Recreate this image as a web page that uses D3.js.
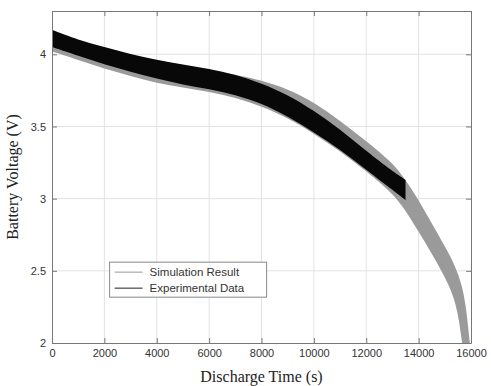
<!DOCTYPE html>
<html>
<head>
<meta charset="utf-8">
<script src="https://cdn.jsdelivr.net/npm/d3@7"></script>
<style>
  body { margin: 0; background: #fff; }
  svg { display: block; }
</style>
</head>
<body>
<svg id="chart" width="491" height="386"></svg>
<script>
// Discharge time samples (s)
const expTime = [0, 1000, 2000, 3000, 4000, 5000, 6000, 7000, 8000, 9000, 10000, 11000, 12000, 13000, 13500];
// Experimental data band (noisy measurement, upper / lower envelope, V)
const expUpper = [4.17, 4.10, 4.05, 4.00, 3.96, 3.93, 3.90, 3.86, 3.80, 3.72, 3.61, 3.48, 3.33, 3.19, 3.13];
const expLower = [4.05, 3.99, 3.93, 3.88, 3.83, 3.79, 3.76, 3.72, 3.66, 3.57, 3.46, 3.34, 3.20, 3.06, 2.99];

// Simulation result band
const simTime  = [0, 1000, 2000, 3000, 4000, 5000, 6000, 7000, 8000, 9000, 10000, 11000, 12000, 13000, 13500, 14000, 14500, 15000, 15300, 15500, 15650, 15800, 15960, 16050];
const simUpper = [4.13, 4.07, 4.02, 3.97, 3.93, 3.91, 3.89, 3.86, 3.82, 3.76, 3.67, 3.54, 3.40, 3.25, 3.13, 2.99, 2.83, 2.67, 2.57, 2.48, 2.40, 2.27, 2.00, 1.80];
const simLower = [4.02, 3.96, 3.90, 3.85, 3.80, 3.77, 3.74, 3.70, 3.64, 3.56, 3.45, 3.33, 3.19, 3.04, 2.92, 2.77, 2.62, 2.46, 2.34, 2.21, 2.02, 1.80, 1.60, 1.50];

const xTicks = [0, 2000, 4000, 6000, 8000, 10000, 12000, 14000, 16000];
const yTicks = [2, 2.5, 3, 3.5, 4];
const legendLabels = ['Simulation Result', 'Experimental Data'];

const svg = d3.select('#chart');
const margin = { top: 11, right: 20, bottom: 43, left: 52 };
const width = 491 - margin.left - margin.right;
const height = 386 - margin.top - margin.bottom;

const g = svg.append('g')
  .attr('transform', `translate(${margin.left},${margin.top})`);

const x = d3.scaleLinear().domain([0, 16000]).range([0, width]);
const y = d3.scaleLinear().domain([2, 4.3]).range([height, 0]);

// grid lines
g.append('g')
  .selectAll('line')
  .data(xTicks.slice(1, -1))
  .join('line')
  .attr('x1', d => x(d)).attr('x2', d => x(d))
  .attr('y1', 0).attr('y2', height)
  .attr('stroke', '#e2e2e2')
  .attr('stroke-width', 1);

g.append('g')
  .selectAll('line')
  .data(yTicks.slice(1))
  .join('line')
  .attr('x1', 0).attr('x2', width)
  .attr('y1', d => y(d)).attr('y2', d => y(d))
  .attr('stroke', '#e2e2e2')
  .attr('stroke-width', 1);

g.append('clipPath').attr('id', 'plot-clip')
  .append('rect').attr('width', width).attr('height', height);

const area = d3.area()
  .x(d => x(d[0]))
  .y0(d => y(d[2]))
  .y1(d => y(d[1]))
  .curve(d3.curveBasis);

// simulation band (gray)
g.append('path')
  .datum(simTime.map((t, i) => [t, simUpper[i], simLower[i]]))
  .attr('clip-path', 'url(#plot-clip)')
  .attr('fill', '#9a9a9a')
  .attr('d', area);

// experimental band (black)
g.append('path')
  .datum(expTime.map((t, i) => [t, expUpper[i], expLower[i]]))
  .attr('clip-path', 'url(#plot-clip)')
  .attr('fill', '#080808')
  .attr('d', area);

// axes with inward ticks (all four sides)
const styleAxis = sel => {
  sel.style('font-family', '"Liberation Sans", Arial, sans-serif')
    .style('font-size', '11px');
  sel.select('.domain').attr('stroke', '#777');
  sel.selectAll('.tick line').attr('stroke', '#777');
  sel.selectAll('.tick text').attr('fill', '#333');
};

g.append('g')
  .attr('transform', `translate(0,${height})`)
  .call(d3.axisBottom(x).tickValues(xTicks).tickFormat(d3.format('d')).tickSizeInner(-5).tickSizeOuter(0).tickPadding(6))
  .call(styleAxis);

g.append('g')
  .call(d3.axisTop(x).tickValues(xTicks).tickFormat('').tickSizeInner(-5).tickSizeOuter(0))
  .call(styleAxis);

g.append('g')
  .call(d3.axisLeft(y).tickValues(yTicks).tickFormat(d3.format('')).tickSizeInner(-5).tickSizeOuter(0).tickPadding(6))
  .call(styleAxis);

g.append('g')
  .attr('transform', `translate(${width},0)`)
  .call(d3.axisRight(y).tickValues(yTicks).tickFormat('').tickSizeInner(-5).tickSizeOuter(0))
  .call(styleAxis);

// axis titles
g.append('text')
  .attr('x', width / 2)
  .attr('y', height + 39)
  .attr('text-anchor', 'middle')
  .attr('fill', '#222')
  .style('font-family', '"Liberation Serif", "Times New Roman", serif')
  .style('font-size', '16px')
  .text('Discharge Time (s)');

g.append('text')
  .attr('transform', `translate(-34,${height / 2}) rotate(-90)`)
  .attr('text-anchor', 'middle')
  .attr('fill', '#222')
  .style('font-family', '"Liberation Serif", "Times New Roman", serif')
  .style('font-size', '16px')
  .text('Battery Voltage (V)');

// legend
const legend = g.append('g')
  .attr('transform', `translate(${x(2200)},${y(2.56)})`);

legend.append('rect')
  .attr('width', 157)
  .attr('height', 35)
  .attr('fill', '#fff')
  .attr('stroke', '#888')
  .attr('stroke-width', 1);

const legendColors = ['#aaa', '#444'];
legendLabels.forEach((label, i) => {
  const row = legend.append('g').attr('transform', `translate(0,${10 + i * 16})`);
  row.append('line')
    .attr('x1', 5).attr('x2', 33)
    .attr('y1', 0).attr('y2', 0)
    .attr('stroke', legendColors[i])
    .attr('stroke-width', 1.2);
  row.append('text')
    .attr('x', 40)
    .attr('y', 0)
    .attr('dy', '0.35em')
    .attr('fill', '#333')
    .style('font-family', '"Liberation Sans", Arial, sans-serif')
    .style('font-size', '11.5px')
    .text(label);
});
</script>
</body>
</html>
